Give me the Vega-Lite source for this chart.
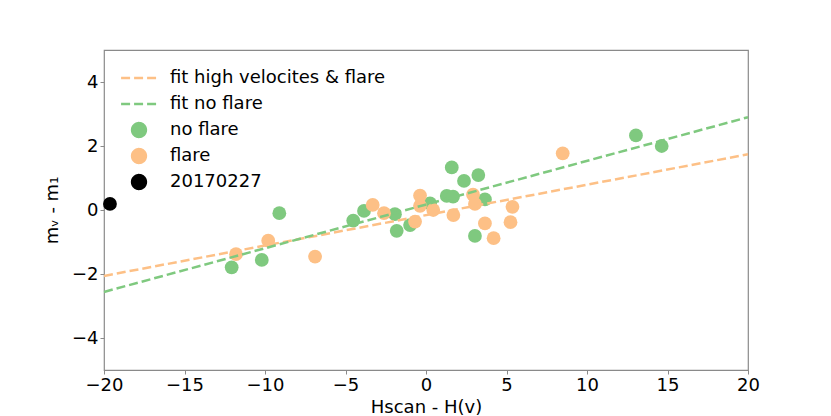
{
  "$schema": "https://vega.github.io/schema/vega-lite/v6.json",
  "width": 644,
  "height": 320,
  "autosize": "none",
  "padding": {"left": 104, "top": 50, "right": 83, "bottom": 46},
  "config": {
    "font": "DejaVu Sans",
    "view": {"stroke": "#8a8a8a", "strokeWidth": 1.2},
    "axis": {
      "domain": false,
      "grid": false,
      "tickColor": "#8a8a8a",
      "tickSize": 4,
      "labelFlush": false,
      "labelFontSize": 18,
      "labelColor": "black",
      "titleFontSize": 18,
      "titleFontWeight": "normal",
      "titleColor": "black"
    },
    "legend": {
      "labelFontSize": 18,
      "labelColor": "black",
      "labelLimit": 0,
      "labelOffset": 22,
      "symbolOffset": 11,
      "rowPadding": 0,
      "clipHeight": 26,
      "padding": 0,
      "symbolSize": 190,
      "symbolOpacity": 1
    }
  },
  "datasets": {
    "points": [
      {"x": 1.60, "y": 1.33, "group": "no flare"},
      {"x": 2.36, "y": 0.91, "group": "no flare"},
      {"x": 3.25, "y": 1.09, "group": "no flare"},
      {"x": 3.66, "y": 0.33, "group": "no flare"},
      {"x": 1.29, "y": 0.44, "group": "no flare"},
      {"x": 1.68, "y": 0.42, "group": "no flare"},
      {"x": 0.25, "y": 0.21, "group": "no flare"},
      {"x": -1.93, "y": -0.13, "group": "no flare"},
      {"x": -1.82, "y": -0.65, "group": "no flare"},
      {"x": -0.99, "y": -0.47, "group": "no flare"},
      {"x": -3.85, "y": -0.03, "group": "no flare"},
      {"x": -4.52, "y": -0.33, "group": "no flare"},
      {"x": -9.11, "y": -0.10, "group": "no flare"},
      {"x": -10.20, "y": -1.56, "group": "no flare"},
      {"x": -12.07, "y": -1.79, "group": "no flare"},
      {"x": 3.04, "y": -0.81, "group": "no flare"},
      {"x": 13.04, "y": 2.33, "group": "no flare"},
      {"x": 14.64, "y": 2.00, "group": "no flare"},
      {"x": -0.37, "y": 0.45, "group": "flare"},
      {"x": -3.31, "y": 0.16, "group": "flare"},
      {"x": -2.61, "y": -0.10, "group": "flare"},
      {"x": -0.37, "y": 0.13, "group": "flare"},
      {"x": 0.45, "y": 0.00, "group": "flare"},
      {"x": 1.70, "y": -0.16, "group": "flare"},
      {"x": -0.68, "y": -0.36, "group": "flare"},
      {"x": 2.92, "y": 0.48, "group": "flare"},
      {"x": 3.04, "y": 0.19, "group": "flare"},
      {"x": 5.37, "y": 0.10, "group": "flare"},
      {"x": 5.25, "y": -0.38, "group": "flare"},
      {"x": 3.66, "y": -0.42, "group": "flare"},
      {"x": 4.20, "y": -0.88, "group": "flare"},
      {"x": -9.80, "y": -0.96, "group": "flare"},
      {"x": -11.80, "y": -1.38, "group": "flare"},
      {"x": -6.89, "y": -1.46, "group": "flare"},
      {"x": 8.49, "y": 1.77, "group": "flare"},
      {"x": -19.63, "y": 0.19, "group": "20170227"}
    ],
    "fits": [
      {"x": -20, "y": -2.06, "group": "fit high velocites & flare"},
      {"x": 20, "y": 1.74, "group": "fit high velocites & flare"},
      {"x": -20, "y": -2.56, "group": "fit no flare"},
      {"x": 20, "y": 2.90, "group": "fit no flare"}
    ]
  },
  "layer": [
    {
      "data": {"name": "points"},
      "mark": {"type": "point", "filled": true, "opacity": 1, "size": 190},
      "encoding": {
        "x": {
          "field": "x",
          "type": "quantitative",
          "scale": {"domain": [-20, 20], "nice": false, "zero": false},
          "axis": {"values": [-20, -15, -10, -5, 0, 5, 10, 15, 20], "title": "Hscan - H(v)", "titlePadding": 4}
        },
        "y": {
          "field": "y",
          "type": "quantitative",
          "scale": {"domain": [-5, 5], "nice": false, "zero": false},
          "axis": {"values": [-4, -2, 0, 2, 4], "title": "mᵥ - m₁", "titlePadding": 10}
        },
        "color": {
          "field": "group",
          "type": "nominal",
          "scale": {
            "domain": ["fit high velocites & flare", "fit no flare", "no flare", "flare", "20170227"],
            "range": ["#fdc086", "#7fc97f", "#7fc97f", "#fdc086", "#000000"]
          },
          "legend": {
            "title": null,
            "orient": "top-left",
            "offset": 15,
            "encode": {"symbols": {"update": {"stroke": {"scale": "color", "field": "value"}, "strokeWidth": {"value": 2.5}}}}
          }
        },
        "shape": {
          "field": "group",
          "type": "nominal",
          "scale": {
            "domain": ["fit high velocites & flare", "fit no flare", "no flare", "flare", "20170227"],
            "range": ["M-2.6,0H2.6", "M-2.6,0H2.6", "circle", "circle", "circle"]
          },
          "legend": {"title": null}
        },
        "order": {"field": "group", "sort": "descending"}
      }
    },
    {
      "data": {"name": "fits"},
      "mark": {"type": "line", "strokeWidth": 2.5},
      "encoding": {
        "x": {"field": "x", "type": "quantitative"},
        "y": {"field": "y", "type": "quantitative"},
        "color": {"field": "group", "type": "nominal"},
        "strokeDash": {
          "field": "group",
          "type": "nominal",
          "scale": {
            "domain": ["fit high velocites & flare", "fit no flare", "no flare", "flare", "20170227"],
            "range": [[9, 4], [9, 4], [1, 0], [1, 0], [1, 0]]
          },
          "legend": {"title": null}
        }
      }
    }
  ]
}
